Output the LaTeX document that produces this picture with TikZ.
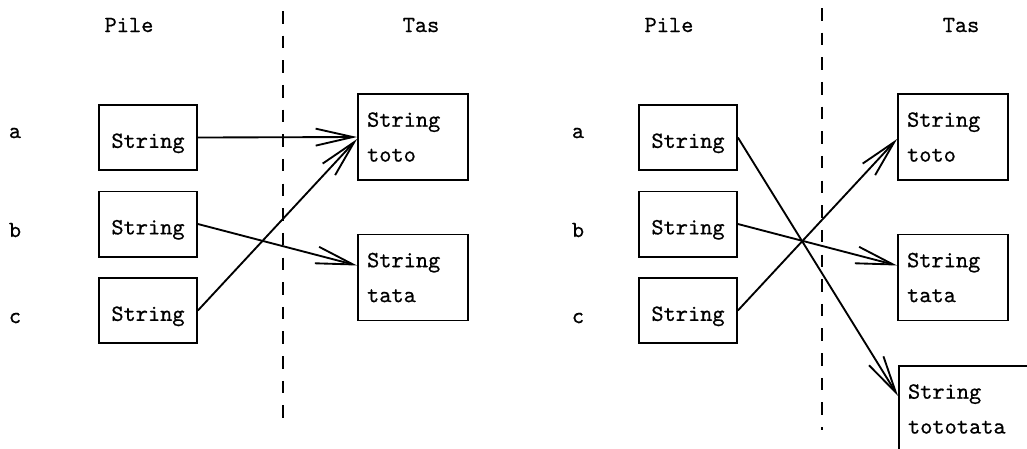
\documentclass[tikz,border=0pt]{standalone}
\usepackage{fontspec}
\usetikzlibrary{arrows.meta,calc}
% slightly heavier typewriter face for all labels
\newfontfamily\codefont{Latin Modern Mono}[FakeBold=0.6]
\begin{document}
\begin{tikzpicture}[x=0.43pt,y=-0.43pt,
  every node/.style={font=\codefont},
  ref/.style={draw,line width=0.8pt,minimum width=42.1pt,minimum height=28pt,inner sep=0pt,
              text height=10pt,text depth=1.1pt},
  obj/.style={draw,line width=0.8pt,align=left,text width=39.5pt,inner xsep=3.9pt,
              minimum height=37pt},
  wideobj/.style={obj,text width=50pt},
  link/.style={line width=0.8pt,-{Straight Barb[length=16pt,width=7.3pt,line width=0.8pt]}},
  border/.style={line width=0.8pt,dash pattern=on 5.4pt off 5.2pt}
]
\useasboundingbox (0,0) rectangle (1027,448);
\clip (0,0) rectangle (1027,448);

% ---- first state ----
\node (pileL) at (129,25) {Pile};
\node (tasL)  at (421,25) {Tas};
\coordinate (sepLtop) at (283,11);
\coordinate (sepLbot) at (283,430);
\draw[border] (sepLtop) -- (sepLbot);

\node (aL) at (15,133) {a};
\node (bL) at (15,230) {b};
\node (cL) at (15,318) {c};

\node[ref] (raL) at (148,137.5) {String};
\node[ref] (rbL) at (148,224)   {String};
\node[ref] (rcL) at (148,310.5) {String};

\node[obj] (totoL) at (413,137)   {String\\[3pt]toto};
\node[obj] (tataL) at (413,277.5) {String\\[3pt]tata};

\draw[link] (raL.east) -- (totoL.west);
\draw[link] (rbL.east) -- ($(tataL.west)+(0,-12)$);
\draw[link] (rcL.east) -- ($(totoL.west)+(0,2)$);

% ---- second state ----
\node (pileR) at (669,25) {Pile};
\node (tasR)  at (961,25) {Tas};
\coordinate (sepRtop) at (822,8);
\coordinate (sepRbot) at (822,430);
\draw[border] (sepRtop) -- (sepRbot);

\node (aR) at (578,133) {a};
\node (bR) at (578,230) {b};
\node (cR) at (578,318) {c};

\node[ref] (raR) at (688,137.5) {String};
\node[ref] (rbR) at (688,224)   {String};
\node[ref] (rcR) at (688,310.5) {String};

\node[obj] (totoR) at (953,137)   {String\\[3pt]toto};
\node[obj] (tataR) at (953,277.5) {String\\[3pt]tata};
\node[wideobj,anchor=north west] (tototataR) at (898,365) {String\\[3pt]tototata};

\draw[link] (raR.east) -- ($(tototataR.west)+(0,-13)$);
\draw[link] (rbR.east) -- ($(tataR.west)+(0,-12)$);
\draw[link] (rcR.east) -- ($(totoR.west)+(0,2)$);
\end{tikzpicture}
\end{document}
